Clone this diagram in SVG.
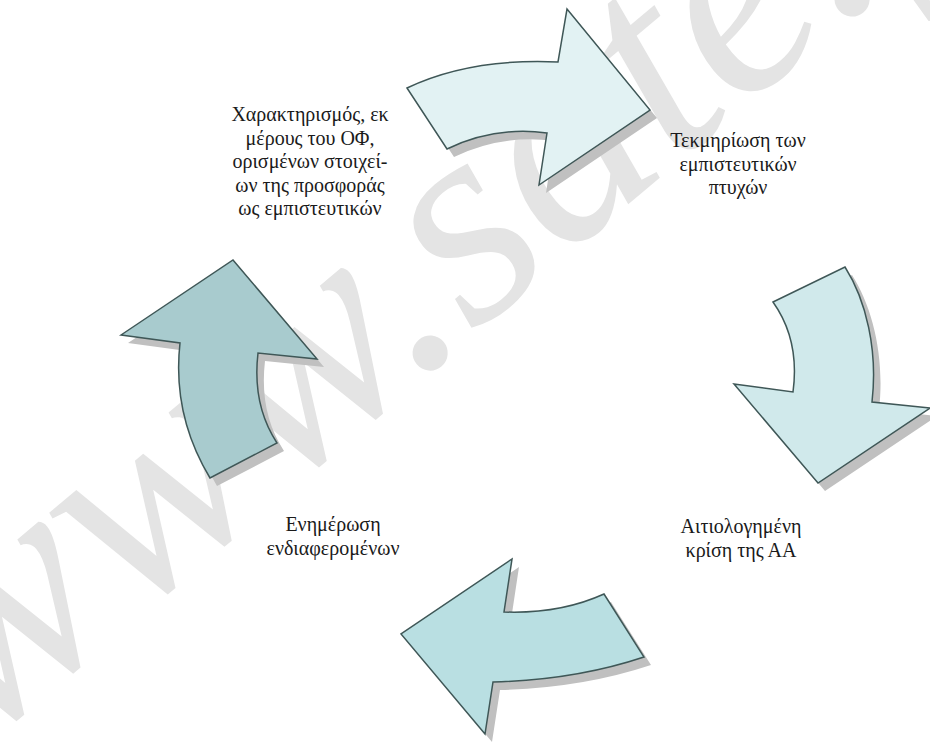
<svg xmlns="http://www.w3.org/2000/svg" width="930" height="742" viewBox="0 0 930 742">
<defs>
<style>
.wm{font-family:"Liberation Serif","Times New Roman",serif;font-style:italic;font-size:296px;fill:#e4e4e4;}
.sh{fill:#c0c0c0;stroke:none;}
.ar{stroke:#3f5757;stroke-width:1.5;stroke-linejoin:miter;}
.lb{font-family:"Liberation Serif","Times New Roman",serif;font-size:20px;fill:#1a1a1a;text-anchor:middle;}
</style>
</defs>
<rect width="930" height="742" fill="#ffffff"/>
<g id="watermark">
<text class="wm" transform="translate(-21,749) rotate(-40)">www.sate.gr</text>
</g>
<g id="connectors">
<g id="arrow-top">
<path class="sh" transform="translate(7,8)" d="M407,88 Q470,58 558,62 L567,9 L650,110 L539,185 L547,133 Q495,126 447,149 Z"/>
<path class="ar" fill="#e2f2f3" d="M407,88 Q470,58 558,62 L567,9 L650,110 L539,185 L547,133 Q495,126 447,149 Z"/>
</g>
<g id="arrow-right">
<path class="sh" transform="translate(7,8)" d="M773,302 L845,267 C866,300 878,350 872,402 L930,408 L818,483 L734,384 L793,392 Q800,340 773,302 Z"/>
<path class="ar" fill="#d0e9eb" d="M773,302 L845,267 C866,300 878,350 872,402 L930,408 L818,483 L734,384 L793,392 Q800,340 773,302 Z"/>
</g>
<g id="arrow-bottom">
<path class="sh" transform="translate(7,8)" d="M604,594 L644,657 Q575,680 493,682 L485,734 L401,634 L512,559 L504,612 Q560,614 604,594 Z"/>
<path class="ar" fill="#b9dfe2" d="M604,594 L644,657 Q575,680 493,682 L485,734 L401,634 L512,559 L504,612 Q560,614 604,594 Z"/>
</g>
<g id="arrow-left">
<path class="sh" transform="translate(7,8)" d="M121,335 L233,260 L317,359 L258,353 Q252,405 277,443 L210,478 Q172,415 180,343 Z"/>
<path class="ar" fill="#a8cbce" d="M121,335 L233,260 L317,359 L258,353 Q252,405 277,443 L210,478 Q172,415 180,343 Z"/>
</g>
</g>
<g id="node-characterisation">
<text class="lb" x="310" y="121">Χαρακτηρισμός, εκ</text>
<text class="lb" x="310" y="144.5">μέρους του ΟΦ,</text>
<text class="lb" x="310" y="168">ορισμένων στοιχεί-</text>
<text class="lb" x="310" y="191.5">ων της προσφοράς</text>
<text class="lb" x="310" y="215">ως εμπιστευτικών</text>
</g>
<g id="node-documentation">
<text class="lb" x="738" y="147">Τεκμηρίωση των</text>
<text class="lb" x="738" y="170.5">εμπιστευτικών</text>
<text class="lb" x="738" y="194">πτυχών</text>
</g>
<g id="node-judgement">
<text class="lb" x="741" y="533">Αιτιολογημένη</text>
<text class="lb" x="741" y="557">κρίση της ΑΑ</text>
</g>
<g id="node-notification">
<text class="lb" x="333" y="531">Ενημέρωση</text>
<text class="lb" x="333" y="555">ενδιαφερομένων</text>
</g>
</svg>
